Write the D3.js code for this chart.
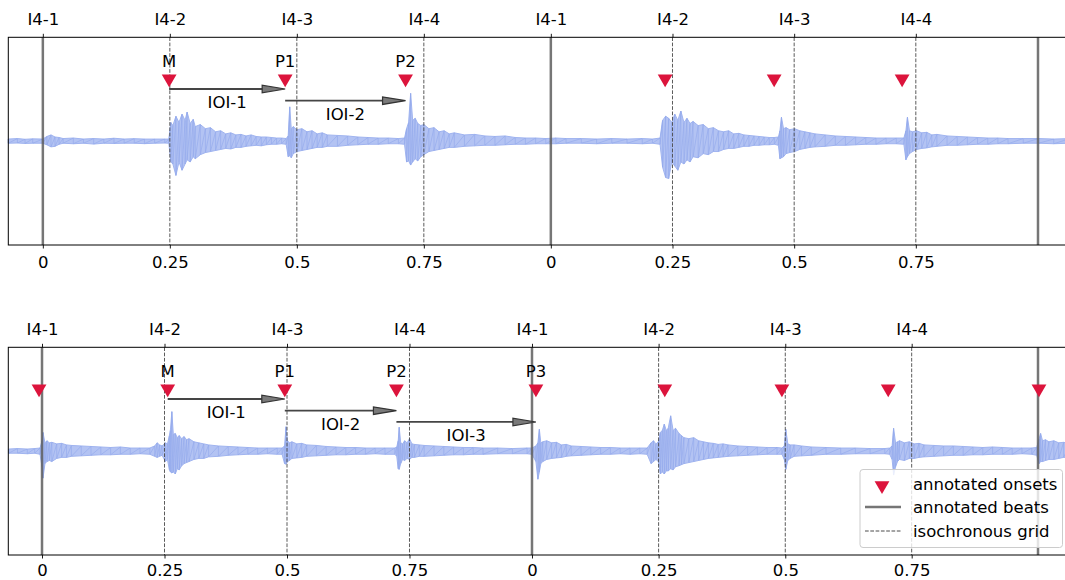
<!DOCTYPE html>
<html>
<head>
<meta charset="utf-8">
<script src="https://cdn.jsdelivr.net/npm/d3@7"></script>
<style>
  html, body { margin: 0; padding: 0; background: #fff; }
  svg text { font-family: "DejaVu Sans", sans-serif; font-size: 16.5px; fill: #000; }
</style>
</head>
<body>
<svg id="chart" width="1065" height="580"></svg>
<script>
// ---------------- DATA ----------------
const topTickLabels = ["I4-1", "I4-2", "I4-3", "I4-4"];
const bottomTickLabels = ["0", "0.25", "0.5", "0.75"];

// Panel 1 (times in seconds)
const p1Domain = [-0.068, 2.022];
const p1Beats = [0, 1.0, 1.959];
const p1Grid = [0.25, 0.5, 0.75, 1.2395, 1.479, 1.7185];
const p1Onsets = [0.2486, 0.477, 0.714, 1.225, 1.4396, 1.6915];
const p1OnsetLabels = ["M", "P1", "P2", "", "", ""];
const p1IOILabels = ["IOI-1", "IOI-2"];
// waveform envelope: [time, max, min]
const p1Wave = [
  [-0.068,.02,-.02],[-0.05,.025,-.018],[-0.035,.018,-.022],[-0.02,.022,-.02],[0.0,.02,-.02],
  [0.008,.045,-.035],[0.016,.06,-.055],[0.024,.04,-.05],[0.032,.035,-.03],[0.04,.025,-.02],
  [0.06,.03,-.025],[0.08,.02,-.02],[0.10,.025,-.028],[0.12,.02,-.02],[0.14,.028,-.022],
  [0.16,.02,-.02],[0.18,.024,-.02],[0.20,.02,-.024],[0.22,.02,-.02],[0.24,.02,-.018],
  [0.248,.02,-.02],[0.252,.18,-.2],[0.256,.15,-.22],[0.262,.24,-.33],[0.268,.18,-.2],
  [0.274,.26,-.28],[0.28,.2,-.22],[0.284,.28,-.18],[0.29,.17,-.2],[0.296,.21,-.15],
  [0.30,.14,-.17],[0.31,.16,-.13],[0.32,.12,-.11],[0.33,.13,-.1],[0.34,.09,-.09],
  [0.35,.1,-.08],[0.36,.07,-.07],[0.37,.08,-.075],[0.38,.06,-.06],[0.39,.065,-.06],
  [0.40,.05,-.05],[0.41,.06,-.045],[0.42,.045,-.04],[0.43,.04,-.045],[0.44,.04,-.035],
  [0.45,.035,-.03],[0.46,.03,-.03],[0.47,.03,-.025],[0.479,.025,-.03],[0.483,.05,-.15],
  [0.486,.33,-.14],[0.489,.12,-.16],[0.493,.14,-.12],[0.50,.11,-.1],[0.51,.12,-.09],
  [0.52,.09,-.08],[0.53,.1,-.07],[0.54,.07,-.06],[0.55,.08,-.06],[0.56,.06,-.05],
  [0.58,.055,-.05],[0.60,.05,-.04],[0.62,.04,-.035],[0.64,.035,-.03],[0.66,.03,-.03],
  [0.68,.03,-.025],[0.70,.025,-.025],[0.712,.03,-.03],[0.716,.12,-.2],[0.72,.18,-.19],
  [0.724,.46,-.23],[0.728,.2,-.2],[0.733,.22,-.17],[0.738,.17,-.19],[0.744,.15,-.15],
  [0.75,.16,-.13],[0.76,.12,-.1],[0.77,.13,-.09],[0.78,.09,-.08],[0.79,.1,-.07],
  [0.80,.07,-.06],[0.81,.08,-.06],[0.83,.06,-.05],[0.85,.065,-.045],[0.87,.05,-.04],
  [0.89,.045,-.04],[0.91,.05,-.035],[0.93,.035,-.03],[0.95,.03,-.03],[0.97,.03,-.025],
  [0.99,.025,-.025],[1.01,.03,-.025],[1.03,.025,-.02],[1.06,.025,-.02],[1.09,.02,-.025],
  [1.12,.025,-.02],[1.15,.02,-.02],[1.18,.025,-.025],[1.20,.02,-.02],[1.215,.03,-.03],
  [1.22,.2,-.25],[1.226,.24,-.35],[1.232,.22,-.36],[1.238,.18,-.2],[1.244,.26,-.24],
  [1.25,.2,-.28],[1.256,.29,-.2],[1.262,.18,-.22],[1.268,.22,-.18],[1.274,.17,-.2],
  [1.28,.19,-.15],[1.29,.15,-.16],[1.30,.16,-.12],[1.31,.12,-.13],[1.32,.13,-.1],
  [1.33,.1,-.1],[1.34,.09,-.08],[1.35,.1,-.07],[1.36,.07,-.07],[1.37,.075,-.06],
  [1.38,.06,-.05],[1.39,.055,-.05],[1.40,.05,-.04],[1.41,.045,-.04],[1.42,.04,-.035],
  [1.43,.035,-.035],[1.44,.035,-.03],[1.448,.04,-.04],[1.451,.1,-.17],[1.454,.23,-.16],
  [1.458,.12,-.15],[1.463,.13,-.12],[1.47,.11,-.11],[1.48,.12,-.1],[1.49,.1,-.08],
  [1.50,.09,-.07],[1.51,.08,-.06],[1.52,.07,-.055],[1.54,.06,-.05],[1.56,.05,-.04],
  [1.58,.045,-.04],[1.60,.04,-.035],[1.62,.035,-.03],[1.64,.03,-.03],[1.66,.03,-.025],
  [1.68,.03,-.025],[1.695,.03,-.03],[1.699,.1,-.18],[1.702,.23,-.15],[1.706,.1,-.12],
  [1.712,.09,-.1],[1.72,.1,-.08],[1.73,.08,-.07],[1.74,.085,-.065],[1.75,.06,-.055],
  [1.76,.065,-.05],[1.78,.05,-.04],[1.80,.045,-.04],[1.82,.04,-.035],[1.84,.035,-.03],
  [1.86,.03,-.03],[1.88,.03,-.025],[1.90,.025,-.025],[1.93,.025,-.02],[1.96,.025,-.02],
  [1.99,.02,-.025],[2.022,.025,-.02]
];

// Panel 2 (times in seconds)
const p2Domain = [-0.0688, 2.098];
const p2Beats = [0, 1.0, 2.0327];
const p2Grid = [0.25, 0.5, 0.75, 1.2584, 1.5169, 1.7749];
const p2Onsets = [-0.0061, 0.2565, 0.4955, 0.7233, 1.008, 1.271, 1.51, 1.727, 2.0347];
const p2OnsetLabels = ["", "M", "P1", "P2", "P3", "", "", "", ""];
const p2IOILabels = ["IOI-1", "IOI-2", "IOI-3"];
const p2Wave = [
  [-0.068,.02,-.02],[-0.05,.025,-.02],[-0.03,.02,-.025],[-0.015,.025,-.02],[-0.004,.03,-.03],
  [0.0,.1,-.15],[0.002,.18,-.26],[0.006,.08,-.12],[0.01,.1,-.1],[0.015,.08,-.09],
  [0.02,.085,-.1],[0.03,.07,-.07],[0.04,.075,-.06],[0.05,.06,-.06],[0.06,.055,-.05],
  [0.08,.05,-.045],[0.10,.045,-.04],[0.12,.04,-.035],[0.14,.035,-.035],[0.16,.04,-.03],
  [0.18,.03,-.03],[0.20,.03,-.025],[0.22,.03,-.03],[0.23,.05,-.05],[0.235,.08,-.06],
  [0.24,.06,-.05],[0.245,.05,-.04],[0.252,.08,-.1],[0.256,.07,-.08],[0.26,.15,-.18],
  [0.262,.2,-.2],[0.265,.38,-.21],[0.268,.16,-.2],[0.272,.17,-.22],[0.276,.13,-.17],
  [0.28,.15,-.18],[0.285,.12,-.14],[0.29,.14,-.12],[0.295,.11,-.11],[0.30,.12,-.1],
  [0.31,.09,-.08],[0.32,.08,-.07],[0.33,.07,-.07],[0.34,.06,-.055],[0.36,.05,-.05],
  [0.38,.045,-.04],[0.40,.04,-.035],[0.42,.035,-.03],[0.44,.03,-.03],[0.46,.03,-.025],
  [0.48,.03,-.03],[0.49,.03,-.03],[0.495,.05,-.12],[0.498,.235,-.125],[0.501,.1,-.1],
  [0.505,.08,-.09],[0.51,.09,-.07],[0.52,.07,-.065],[0.53,.075,-.06],[0.54,.06,-.05],
  [0.56,.055,-.045],[0.58,.045,-.04],[0.60,.04,-.035],[0.62,.035,-.035],[0.64,.035,-.03],
  [0.66,.03,-.03],[0.68,.03,-.025],[0.70,.03,-.03],[0.72,.03,-.03],[0.724,.04,-.05],
  [0.727,.1,-.17],[0.729,.23,-.175],[0.732,.08,-.12],[0.736,.07,-.08],[0.74,.1,-.09],
  [0.745,.08,-.07],[0.75,.12,-.08],[0.755,.07,-.06],[0.76,.065,-.06],[0.77,.06,-.05],
  [0.78,.055,-.05],[0.80,.05,-.045],[0.82,.045,-.04],[0.84,.04,-.035],[0.86,.035,-.035],
  [0.88,.035,-.03],[0.90,.03,-.03],[0.93,.03,-.025],[0.96,.025,-.025],[0.99,.03,-.025],
  [1.0,.03,-.03],[1.008,.05,-.1],[1.012,.08,-.27],[1.015,.21,-.2],[1.018,.08,-.12],
  [1.022,.09,-.1],[1.03,.1,-.08],[1.04,.08,-.07],[1.05,.085,-.065],[1.06,.06,-.06],
  [1.07,.065,-.05],[1.08,.05,-.045],[1.10,.045,-.04],[1.12,.04,-.035],[1.14,.035,-.03],
  [1.16,.035,-.03],[1.18,.03,-.025],[1.20,.03,-.03],[1.22,.03,-.025],[1.235,.03,-.03],
  [1.243,.08,-.12],[1.248,.1,-.1],[1.253,.07,-.08],[1.258,.09,-.1],[1.262,.18,-.22],
  [1.266,.2,-.2],[1.27,.26,-.22],[1.274,.2,-.19],[1.278,.22,-.19],[1.283,.34,-.17],
  [1.288,.2,-.18],[1.293,.22,-.15],[1.30,.17,-.14],[1.305,.15,-.13],[1.31,.13,-.12],
  [1.32,.12,-.11],[1.33,.13,-.1],[1.34,.1,-.09],[1.35,.09,-.08],[1.36,.08,-.07],
  [1.37,.075,-.065],[1.38,.065,-.06],[1.39,.07,-.055],[1.40,.06,-.05],[1.42,.05,-.045],
  [1.44,.045,-.04],[1.46,.04,-.035],[1.48,.035,-.03],[1.50,.035,-.03],[1.51,.03,-.03],
  [1.515,.05,-.08],[1.518,.21,-.175],[1.522,.07,-.09],[1.527,.06,-.07],[1.535,.06,-.05],
  [1.55,.05,-.045],[1.57,.04,-.04],[1.60,.035,-.03],[1.63,.03,-.03],[1.66,.03,-.025],
  [1.69,.025,-.025],[1.72,.025,-.025],[1.73,.03,-.03],[1.735,.05,-.08],[1.738,.22,-.23],
  [1.742,.08,-.15],[1.746,.09,-.1],[1.75,.1,-.08],[1.76,.08,-.09],[1.77,.09,-.07],
  [1.78,.07,-.07],[1.79,.075,-.06],[1.80,.06,-.055],[1.82,.055,-.05],[1.84,.05,-.045],
  [1.86,.05,-.04],[1.88,.045,-.04],[1.90,.04,-.035],[1.92,.035,-.035],[1.94,.04,-.03],
  [1.96,.035,-.03],[1.98,.03,-.03],[2.0,.03,-.025],[2.02,.03,-.03],[2.03,.035,-.04],
  [2.035,.12,-.12],[2.038,.17,-.1],[2.042,.1,-.1],[2.048,.11,-.09],[2.055,.09,-.08],
  [2.065,.1,-.08],[2.075,.08,-.07],[2.085,.085,-.06],[2.098,.07,-.06]
];

// ---------------- DRAW ----------------
const svg = d3.select("#chart");
const X0 = 8.3, X1 = 1070;
const WAVE = "#a0b4f0", ONSET = "#dc143c", BEAT = "#5f5f5f", GRIDC = "#4a4a4a", ARROW = "#454545";
const markerY = 0.615, labelDy = -10.5;
const arrowYs = [0.502, 0.39, 0.281];

function panel(cfg) {
  const g = svg.append("g");
  const x = d3.scaleLinear().domain(cfg.domain).range([X0, X1]);
  const y = d3.scaleLinear().domain([-1, 1]).range([cfg.bottom, cfg.top]);

  // waveform
  const area = d3.area().x(d => x(d[0])).y0(d => y(d[2])).y1(d => y(d[1]));
  g.append("path").datum(cfg.wave).attr("d", area)
    .attr("fill", WAVE).attr("fill-opacity", 0.8)
    .attr("stroke", WAVE).attr("stroke-width", 1).attr("stroke-linejoin", "round");
  // texture: zig-zag line through max/min
  const zig = [];
  cfg.wave.forEach(d => { zig.push([d[0], d[1]]); zig.push([d[0], d[2]]); });
  g.append("path").datum(zig)
    .attr("d", d3.line().x(d => x(d[0])).y(d => y(d[1])))
    .attr("fill", "none").attr("stroke", "#93a9ec").attr("stroke-width", 0.9).attr("opacity", 0.7);

  // grid lines
  g.selectAll(".grid").data(cfg.grid).enter().append("line")
    .attr("x1", d => x(d)).attr("x2", d => x(d))
    .attr("y1", cfg.top).attr("y2", cfg.bottom)
    .attr("stroke", GRIDC).attr("stroke-width", 1).attr("stroke-dasharray", "3.7,1.6").attr("opacity", 0.9);

  // beat lines
  g.selectAll(".beat").data(cfg.beats).enter().append("line")
    .attr("x1", d => x(d)).attr("x2", d => x(d))
    .attr("y1", cfg.top).attr("y2", cfg.bottom)
    .attr("stroke", BEAT).attr("stroke-width", 2.5).attr("opacity", 0.85);

  // IOI arrows
  const labeled = cfg.onsets.map((t, i) => ({ t, label: cfg.onsetLabels[i] })).filter(d => d.label);
  cfg.ioi.forEach((lab, i) => {
    const t0 = labeled[i].t, t1 = labeled[i + 1].t;
    const ay = y(arrowYs[i]);
    const xa = x(t0), xb = x(t1);
    const headL = 23, headW = 3.8;
    g.append("line").attr("x1", xa).attr("x2", xb - headL + 2).attr("y1", ay).attr("y2", ay)
      .attr("stroke", ARROW).attr("stroke-width", 1.8);
    g.append("path")
      .attr("d", `M${xb},${ay} L${xb - headL},${ay - headW} L${xb - headL},${ay + headW} Z`)
      .attr("fill", "#7a7a7a").attr("stroke", "#333").attr("stroke-width", 1.2).attr("stroke-linejoin", "miter");
    g.append("text").attr("x", (xa + xb) / 2).attr("y", ay + 19)
      .attr("text-anchor", "middle").text(lab);
  });

  // onset markers
  const tri = d3.symbol().type(d3.symbolTriangle).size(95);
  g.selectAll(".onset").data(cfg.onsets).enter().append("path")
    .attr("d", tri)
    .attr("transform", d => `translate(${x(d)},${y(markerY) + 1.5}) rotate(180)`)
    .attr("fill", ONSET);
  g.selectAll(".olab").data(labeled).enter().append("text")
    .attr("x", d => x(d.t)).attr("y", y(markerY) + labelDy)
    .attr("text-anchor", "middle").text(d => d.label);

  // axes
  const tickTimes = [cfg.beats[0], cfg.grid[0], cfg.grid[1], cfg.grid[2],
                     cfg.beats[1], cfg.grid[3], cfg.grid[4], cfg.grid[5]];
  const axB = d3.axisBottom(x).tickValues(tickTimes).tickSize(3.5).tickPadding(cfg.padB)
    .tickFormat((d, i) => bottomTickLabels[i % 4]);
  const axT = d3.axisTop(x).tickValues(tickTimes).tickSize(3.5).tickPadding(8.8)
    .tickFormat((d, i) => topTickLabels[i % 4]);
  const gb = g.append("g").attr("transform", `translate(0,${cfg.bottom})`).call(axB);
  const gt = g.append("g").attr("transform", `translate(0,${cfg.top})`).call(axT);
  [gb, gt].forEach(a => {
    a.select(".domain").remove();
    a.selectAll("line").attr("stroke", "#000").attr("stroke-width", 0.9);
    a.selectAll("text").attr("font-family", "DejaVu Sans, sans-serif").attr("font-size", "16.5px").attr("fill", "#000");
  });

  // spines
  g.append("rect").attr("x", X0).attr("y", cfg.top).attr("width", X1 - X0).attr("height", cfg.bottom - cfg.top)
    .attr("fill", "none").attr("stroke", "#000").attr("stroke-width", 1);
  return { g, x, y };
}

panel({ domain: p1Domain, top: 37.3, bottom: 245, wave: p1Wave, beats: p1Beats, grid: p1Grid,
        onsets: p1Onsets, onsetLabels: p1OnsetLabels, ioi: p1IOILabels, padB: 7.8 });
panel({ domain: p2Domain, top: 347.3, bottom: 555, wave: p2Wave, beats: p2Beats, grid: p2Grid,
        onsets: p2Onsets, onsetLabels: p2OnsetLabels, ioi: p2IOILabels, padB: 6.2 });

// legend
const lg = svg.append("g");
lg.append("rect").attr("x", 860).attr("y", 469.5).attr("width", 202.5).attr("height", 78).attr("rx", 3)
  .attr("fill", "#fff").attr("fill-opacity", 0.8).attr("stroke", "#cccccc").attr("stroke-width", 1);
const legendItems = ["annotated onsets", "annotated beats", "isochronous grid"];
const rowY = [484, 507, 531];
lg.append("path").attr("d", d3.symbol().type(d3.symbolTriangle).size(95))
  .attr("transform", `translate(882,${rowY[0] + 1.5}) rotate(180)`).attr("fill", ONSET);
lg.append("line").attr("x1", 865).attr("x2", 901).attr("y1", rowY[1]).attr("y2", rowY[1])
  .attr("stroke", BEAT).attr("stroke-width", 2.5).attr("opacity", 0.85);
lg.append("line").attr("x1", 865).attr("x2", 901).attr("y1", rowY[2]).attr("y2", rowY[2])
  .attr("stroke", GRIDC).attr("stroke-width", 1).attr("stroke-dasharray", "3.7,1.6");
lg.selectAll(".lt").data(legendItems).enter().append("text")
  .attr("x", 913).attr("y", (d, i) => rowY[i] + 6).text(d => d);
</script>
</body>
</html>
